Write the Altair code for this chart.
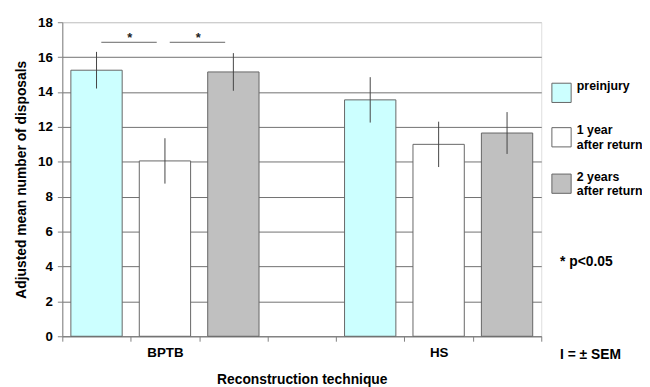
import altair as alt
import pandas as pd

# ---- data ----
techniques = ["BPTB", "HS"]
timepoints = ["preinjury", "1 year after return", "2 years after return"]
means = {
    "BPTB": [15.25, 10.05, 15.15],
    "HS": [13.55, 11.0, 11.65],
}
sems = {
    "BPTB": [1.05, 1.3, 1.08],
    "HS": [1.3, 1.3, 1.2],
}
colors = ["#CCFFFF", "#FFFFFF", "#C0C0C0"]
# significant comparisons (BPTB): slot pairs
sig_from = [0, 1]
sig_to = [1, 2]
sig_level = 16.85
y_ticks = [0, 2, 4, 6, 8, 10, 12, 14, 16, 18]

rows = []
for ti, tech in enumerate(techniques):
    for pi, tp in enumerate(timepoints):
        slot = ti * 4 + pi
        rows.append({"slot": str(slot), "technique": tech, "timepoint": tp,
                     "mean": means[tech][pi],
                     "lo": means[tech][pi] - sems[tech][pi],
                     "hi": means[tech][pi] + sems[tech][pi]})
df = pd.DataFrame(rows)
slot_domain = [str(i) for i in range(7)]

sig_df = pd.DataFrame({"a": [str(s) for s in sig_from],
                       "b": [str(s) for s in sig_to],
                       "y": [sig_level] * len(sig_from),
                       "star": ["*"] * len(sig_from)})

FONT = "Liberation Sans"
label_expr = "datum.value == '1' ? 'BPTB' : (datum.value == '5' ? 'HS' : '')"

x_enc = alt.X("slot:N",
              scale=alt.Scale(domain=slot_domain, paddingInner=0, paddingOuter=0),
              axis=alt.Axis(title="Reconstruction technique", labelExpr=label_expr,
                            labelAngle=0, tickBand="extent", grid=False,
                            domainColor="#808080", tickColor="#808080", tickSize=5,
                            labelFont=FONT, labelFontSize=13.5, labelFontWeight="bold",
                            labelColor="#000", labelPadding=4,
                            titleFont=FONT, titleFontSize=14, titleFontWeight="bold",
                            titleColor="#000", titlePadding=14))

y_scale = alt.Scale(domain=[0, 18], nice=False, zero=True)

bars = alt.Chart(df).mark_bar(width={"band": 0.75}, stroke="#666666", strokeWidth=1).encode(
    x=x_enc,
    y=alt.Y("mean:Q", scale=y_scale,
            axis=alt.Axis(title="Adjusted mean number of disposals", values=y_ticks,
                          tickCount=len(y_ticks), labelOverlap=False,
                          grid=True,
                          gridColor={"condition": {"test": "datum.value == 18", "value": "#C8C8C8"},
                                     "value": "#707070"},
                          domainColor="#808080", tickColor="#808080", tickSize=5,
                          labelFont=FONT, labelFontSize=13.5, labelFontWeight="bold",
                          labelColor="#000", labelPadding=5,
                          titleFont=FONT, titleFontSize=14, titleFontWeight="bold",
                          titleColor="#000", titlePadding=9)),
    fill=alt.Fill("timepoint:N",
                  scale=alt.Scale(domain=timepoints, range=colors),
                  legend=alt.Legend(title=None, orient="none", legendX=495, legendY=61,
                                    symbolType="square", symbolSize=380,
                                    symbolStrokeColor="#666666", symbolStrokeWidth=1,
                                    labelFont=FONT, labelFontSize=12.5, labelFontWeight="bold",
                                    labelColor="#000", labelOffset=5, labelBaseline="bottom",
                                    labelLimit=300, rowPadding=19,
                                    labelExpr="datum.value == 'preinjury' ? 'preinjury' : (datum.value == '1 year after return' ? ['\u00a01 year', 'after return'] : ['\u00a02 years', 'after return'])")),
)

errs = alt.Chart(df).mark_rule(color="#444444", strokeWidth=1).encode(
    x=alt.X("slot:N"),
    y=alt.Y("lo:Q"),
    y2="hi:Q",
)

sig_lines = alt.Chart(sig_df).mark_rule(color="#666666", strokeWidth=1).encode(
    x=alt.X("a:N", bandPosition=0.57),
    x2=alt.X2("b:N", bandPosition=0.38),
    y=alt.Y("y:Q"),
)

sig_stars = alt.Chart(sig_df).mark_text(font=FONT, fontSize=13, fontWeight="bold",
                                        baseline="alphabetic", dx=-1, color="#222").encode(
    x=alt.X("b:N", bandPosition=0),
    y=alt.Y("y:Q"),
    text="star:N",
)

notes_df = pd.DataFrame({"txt": ["* p<0.05", "I = \u00b1 SEM"], "yy": [243, 337]})
notes = alt.Chart(notes_df).mark_text(font=FONT, fontSize=14, fontWeight="bold",
                                      align="left", baseline="middle", color="#000").encode(
    x=alt.value(504),
    y=alt.Y("yy:Q", scale=None),
    text="txt:N",
)

chart = alt.layer(bars, errs, sig_lines, sig_stars, notes).properties(
    width=485, height=318,
    autosize=alt.AutoSizeParams(type="none"),
    padding={"left": 55, "top": 12, "right": 102, "bottom": 52},
).configure_view(stroke="#C8C8C8", strokeWidth=1).configure(background="white")

chart.save("out.html", embed_options={"renderer": "svg", "actions": False})
